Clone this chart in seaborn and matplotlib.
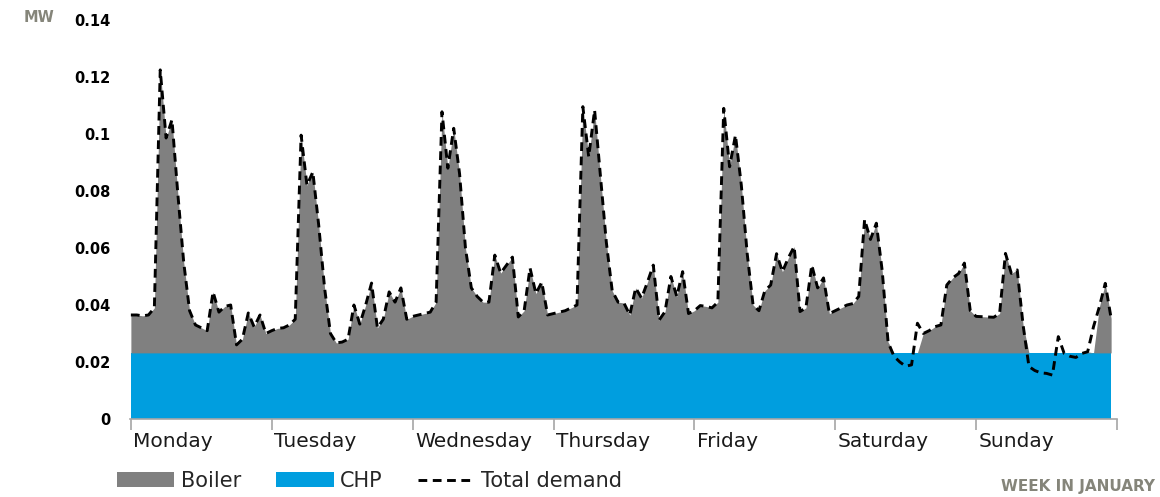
import numpy as np
import pandas as pd
import matplotlib
matplotlib.use("Agg")
import matplotlib.pyplot as plt
from matplotlib.patches import Patch
from matplotlib.lines import Line2D
import seaborn as sns

# Hourly total heat demand over one week in January (MW)
days = ["Monday", "Tuesday", "Wednesday", "Thursday", "Friday", "Saturday", "Sunday"]

monday = [0.0365, 0.0365, 0.0362, 0.0365, 0.039, 0.1225, 0.0986, 0.105, 0.079, 0.055,
          0.038, 0.033, 0.032, 0.031, 0.0446, 0.0375, 0.0395, 0.040, 0.026, 0.028,
          0.0372, 0.0323, 0.0365, 0.030]
tuesday = [0.031, 0.0318, 0.032, 0.033, 0.035, 0.0996, 0.082, 0.0867, 0.068, 0.046,
           0.030, 0.0267, 0.027, 0.028, 0.040, 0.0333, 0.040, 0.0477, 0.032, 0.035,
           0.0446, 0.041, 0.046, 0.035]
wednesday = [0.036, 0.0365, 0.037, 0.0375, 0.041, 0.1078, 0.088, 0.102, 0.086, 0.060,
             0.046, 0.043, 0.041, 0.041, 0.0575, 0.0512, 0.054, 0.0568, 0.0358, 0.038,
             0.053, 0.044, 0.048, 0.0365]
thursday = [0.037, 0.0375, 0.038, 0.039, 0.040, 0.1096, 0.092, 0.1084, 0.085, 0.062,
            0.045, 0.041, 0.0407, 0.0365, 0.046, 0.0424, 0.048, 0.054, 0.0347, 0.0377,
            0.050, 0.043, 0.0517, 0.037]
friday = [0.038, 0.0398, 0.0395, 0.039, 0.041, 0.109, 0.0885, 0.0996, 0.082, 0.058,
          0.040, 0.038, 0.045, 0.047, 0.058, 0.0517, 0.0565, 0.0605, 0.0377, 0.039,
          0.054, 0.046, 0.0495, 0.037]
saturday = [0.038, 0.039, 0.040, 0.0405, 0.043, 0.070, 0.063, 0.0687, 0.052, 0.027,
            0.022, 0.020, 0.0185, 0.019, 0.0336, 0.030, 0.031, 0.0324, 0.033, 0.047,
            0.0495, 0.051, 0.0547, 0.038]
sunday = [0.036, 0.0359, 0.0358, 0.0357, 0.037, 0.0581, 0.0511, 0.0523, 0.033, 0.0184,
          0.017, 0.0162, 0.016, 0.0154, 0.0289, 0.023, 0.022, 0.0216, 0.023, 0.0236,
          0.0324, 0.0394, 0.0476, 0.0353]

# Constant CHP output; the boiler covers the rest of the demand
chp_level = 0.0232
# hours in which the boiler has not yet restarted after a low-demand spell
boiler_off_hours = [134, 158, 164]

demand = np.array(monday + tuesday + wednesday + thursday + friday + saturday + sunday)
hours = np.arange(len(demand))
chp = np.full(len(demand), chp_level)
boiler = np.clip(demand - chp, 0, None)
boiler[boiler_off_hours] = 0.0

df = pd.DataFrame({"hour": hours, "demand": demand, "chp": chp, "boiler": boiler})

sns.set_theme(style="white")
plt.rcParams["font.family"] = ["DejaVu Sans"]

c_boiler = "#808080"
c_chp = "#009EDF"
c_note = "#85857A"
dash = (0, (3.0, 1.9))

fig = plt.figure(figsize=(11.6, 4.97), dpi=100)
ax = fig.add_axes([130 / 1160, 1 - 419 / 497, (1117 - 130) / 1160, (419 - 20) / 497])

ax.stackplot(df["hour"], df["chp"], df["boiler"], colors=[c_chp, c_boiler],
             linewidth=0)
sns.lineplot(data=df, x="hour", y="demand", ax=ax, color="black", linewidth=2.1,
             linestyle=dash, legend=False)

ax.set_xlim(-0.15, 168)
ax.set_ylim(0, 0.14)
ax.set_xlabel("")
ax.set_ylabel("")

for s in ["top", "right", "left"]:
    ax.spines[s].set_visible(False)
ax.spines["bottom"].set_color("#A6A6A6")
ax.spines["bottom"].set_linewidth(1.2)

ax.set_xticks(np.arange(0, 169, 24))
ax.set_xticklabels([""] * 8)
ax.tick_params(axis="x", direction="out", length=8, width=1.2, color="#A6A6A6",
               bottom=True)

yt = [0, 0.02, 0.04, 0.06, 0.08, 0.1, 0.12, 0.14]
ax.set_yticks(yt)
ax.set_yticklabels(["0", "0.02", "0.04", "0.06", "0.08", "0.1", "0.12", "0.14"],
                   fontsize=10.5, fontweight="bold", color="black")
ax.tick_params(axis="y", length=0, pad=14)

for i, d in enumerate(days):
    ax.text(i * 24 + 0.4, -0.0046, d, ha="left", va="top", fontsize=14.5,
            color="#1a1a1a", clip_on=False)

fig.text(24 / 1160, 1 - 17 / 497, "MW", fontsize=10.5, fontweight="bold",
         color=c_note, va="center", ha="left")
fig.text(1155 / 1160, 1 - 486 / 497, "WEEK IN JANUARY", fontsize=11,
         fontweight="bold", color=c_note, va="center", ha="right")

handles = [
    Patch(facecolor=c_boiler, edgecolor="none", label="Boiler"),
    Patch(facecolor=c_chp, edgecolor="none", label="CHP"),
    Line2D([0], [0], color="black", linewidth=2.1, linestyle=dash,
           label="Total demand"),
]
fig.legend(handles=handles, loc="center left", bbox_to_anchor=(117 / 1160, 1 - 481 / 497),
           ncol=3, frameon=False, fontsize=15, handlelength=2.75, handleheight=0.72,
           handletextpad=0.3, columnspacing=1.7, borderaxespad=0, borderpad=0)

fig.savefig("out.png", dpi=100)
